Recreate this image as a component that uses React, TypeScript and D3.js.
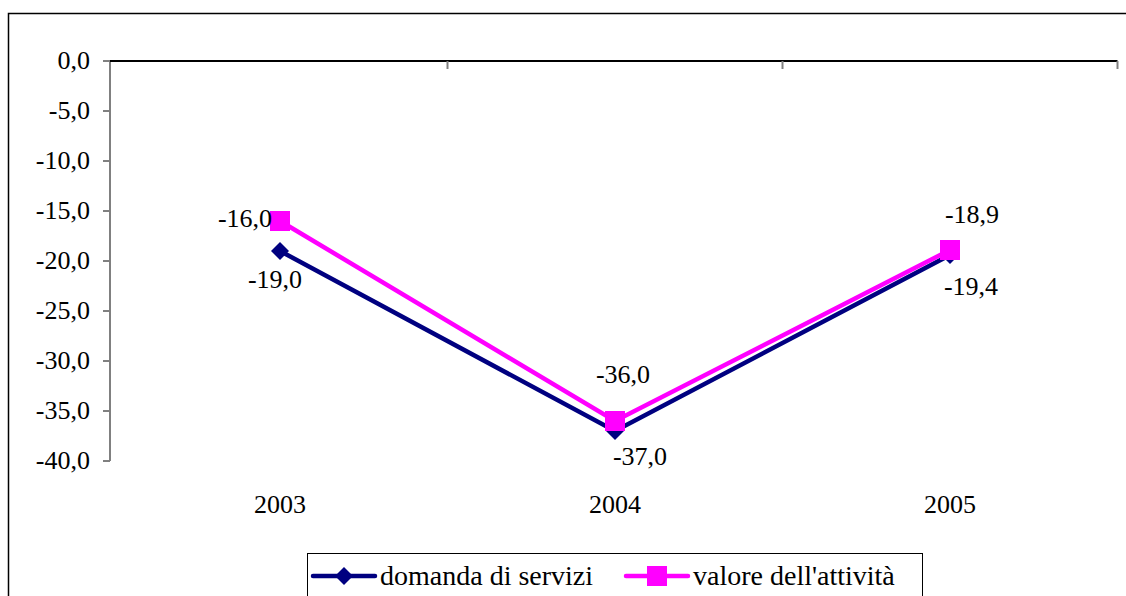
import React from 'react';
import * as d3 from 'd3';

const years = ['2003', '2004', '2005'];
const domanda = [-19.0, -37.0, -19.4];
const valore = [-16.0, -36.0, -18.9];
const yTicks = [0, -5, -10, -15, -20, -25, -30, -35, -40];
const seriesNames = ['domanda di servizi', "valore dell'attività"];

// label offsets relative to each point (dx, baseline dy)
const domandaLabelOff = [[-5, 37], [25, 34], [21, 40]];
const valoreLabelOff = [[-35, 6], [8, -38], [22, -27]];

const fmt = (v: number) => v.toFixed(1).replace('.', ',');

const FONT = 'Liberation Serif';
const FS = 26;

const left = 110, top = 61, bottom = 461;
const x = d3.scaleBand().domain(years).range([112.5, 1117.5]);
const y = d3.scaleLinear().domain([-40, 0]).range([bottom, top]);
const cx = (yr: string) => (x(yr) as number) + x.bandwidth() / 2;

const line = d3.line<number>()
  .x((_, i) => cx(years[i]))
  .y(d => y(d));

const series = [
  { name: seriesNames[0], data: domanda, color: '#000080', marker: 'diamond', off: domandaLabelOff },
  { name: seriesNames[1], data: valore, color: '#FF00FF', marker: 'square', off: valoreLabelOff },
];

const Marker: React.FC<{ px: number; py: number; kind: string; color: string }> = ({ px, py, kind, color }) =>
  kind === 'diamond'
    ? <path d={`M${px},${py - 9}L${px + 9},${py}L${px},${py + 9}L${px - 9},${py}Z`} fill={color} />
    : <rect x={px - 10} y={py - 10} width={20} height={20} fill={color} />;

const App: React.FC = () => {
  const legendX = [313, 626];
  return (
    <svg width={1126} height={596} style={{ position: 'absolute', left: 0, top: 0 }}>
      {/* outer frame */}
      <rect x={8.5} y={13.5} width={1130} height={600} fill="#fff" stroke="#000" strokeWidth={1.5} />

      {/* y axis */}
      <line x1={left} x2={left} y1={top} y2={bottom} stroke="#808080" strokeWidth={2} />
      {yTicks.map(t => (
        <g key={t}>
          <line x1={left - 7} x2={left} y1={y(t)} y2={y(t)} stroke="#808080" strokeWidth={2} />
          <text x={90} y={y(t) + 8} textAnchor="end" fontFamily={FONT} fontSize={FS}>{fmt(t)}</text>
        </g>
      ))}

      {/* category axis at 0 */}
      <line x1={left} x2={1117.5} y1={y(0)} y2={y(0)} stroke="#000" strokeWidth={2} />
      {years.map(yr => {
        const xe = (x(yr) as number) + x.bandwidth();
        return (
          <g key={yr}>
            <line x1={xe} x2={xe} y1={y(0)} y2={y(0) + 8} stroke="#808080" strokeWidth={2} />
            <text x={cx(yr)} y={513} textAnchor="middle" fontFamily={FONT} fontSize={FS}>{yr}</text>
          </g>
        );
      })}

      {/* lines */}
      {series.map(s => (
        <path key={s.name} d={line(s.data) as string} fill="none" stroke={s.color} strokeWidth={4.5} />
      ))}
      {series.map(s => s.data.map((v, i) => (
        <Marker key={s.name + i} px={cx(years[i])} py={y(v)} kind={s.marker} color={s.color} />
      )))}
      {series.map(s => s.data.map((v, i) => (
        <text key={'l' + s.name + i} x={cx(years[i]) + s.off[i][0]} y={y(v) + s.off[i][1]}
          textAnchor="middle" fontFamily={FONT} fontSize={FS}>{fmt(v)}</text>
      )))}

      {/* legend */}
      <rect x={307.5} y={553.5} width={615} height={60} fill="#fff" stroke="#000" strokeWidth={1} />
      {series.map((s, i) => {
        const lx = legendX[i];
        const ly = 576;
        return (
          <g key={'lg' + s.name}>
            <line x1={lx} x2={lx + 62} y1={ly} y2={ly} stroke={s.color} strokeWidth={4.5} strokeLinecap="round" />
            <Marker px={lx + 31} py={ly} kind={s.marker} color={s.color} />
            <text x={lx + 67} y={ly + 9} fontFamily={FONT} fontSize={28}>{s.name}</text>
          </g>
        );
      })}
    </svg>
  );
};

export default App;
